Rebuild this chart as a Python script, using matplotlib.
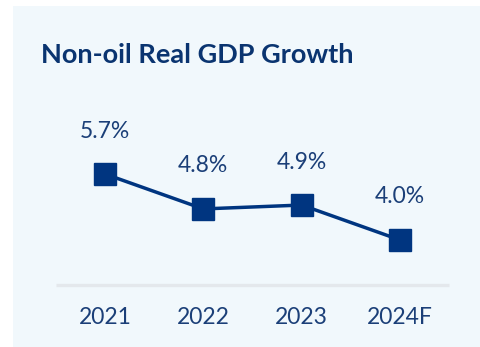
import matplotlib.pyplot as plt
from matplotlib.patches import Rectangle

years = ['2021', '2022', '2023', '2024F']
growth = [5.7, 4.8, 4.9, 4.0]
labels = ['5.7%', '4.8%', '4.9%', '4.0%']

navy = '#003580'
txt = '#1b3f78'
W, H = 480, 347

plt.rcParams['font.family'] = ['Lato', 'DejaVu Sans']

fig = plt.figure(figsize=(W/100, H/100), dpi=100)
fig.patch.set_facecolor('white')

ax = fig.add_axes([0, 0, 1, 1])
ax.set_facecolor('none')
ax.set_xlim(-1.068, 3.814)
ax.set_ylim(1.241, 10.185)
ax.axis('off')

# light panel behind everything
ax.add_patch(Rectangle((13/W, 0), 1, (H-6)/H, transform=fig.transFigure,
                       facecolor='#f1f8fc', edgecolor='none', zorder=0, clip_on=False))

x = list(range(len(years)))
ax.plot([-0.5, 3.5], [2.84, 2.84], color='#e4e8ec', lw=2.4, solid_capstyle='butt', zorder=1)
ax.plot(x, growth, color=navy, lw=2.5, marker='s', markersize=16,
        markerfacecolor=navy, markeredgecolor=navy, zorder=2)

for xi, v, lab in zip(x, growth, labels):
    ax.annotate(lab, (xi, v), xytext=(0, 43), textcoords='offset pixels',
                ha='center', va='center', fontsize=16.5, color=txt)

for xi, yr in zip(x, years):
    ax.text(xi, 2.01, yr, ha='center', va='center', fontsize=16.5, color=txt)

fig.text(41/W, 1 - 63/H, 'Non-oil Real GDP Growth', ha='left', va='baseline',
         fontsize=19.5, fontweight='bold', color='#0a3470')

fig.savefig('out.png', dpi=100)
